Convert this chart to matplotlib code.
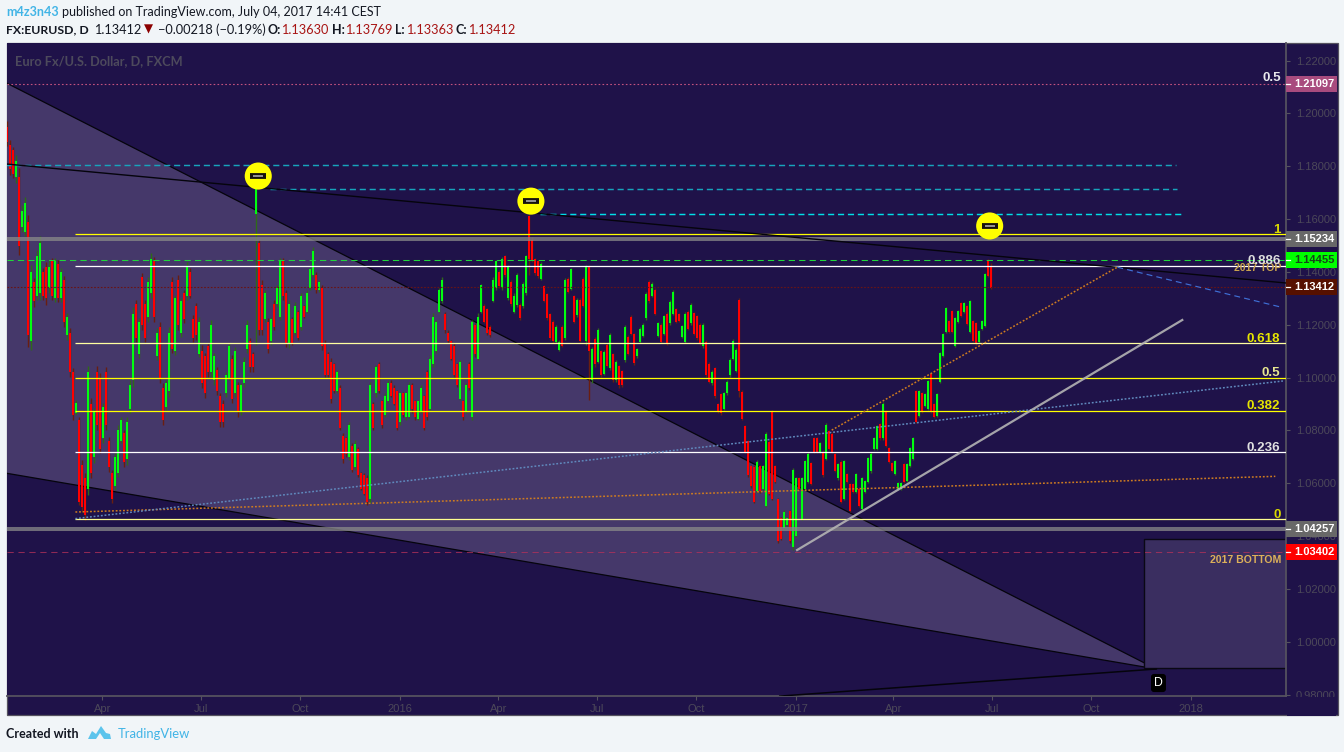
import numpy as np
import matplotlib
matplotlib.use("Agg")
import matplotlib.pyplot as plt
import matplotlib.dates as mdates
from matplotlib.patches import Rectangle, Polygon
from matplotlib.transforms import blended_transform_factory

W, H = 1344, 752
BG = "#f1f5f8"; PANEL = "#1f1249"; TRI = "#45386a"; RECT = "#3a2e60"; AX = "#55525f"; TICK = "#4c4859"
FONT = "Liberation Sans"; HEAD = "Lato"

# Candles, in 1/10000 above 1.0000
first_bar = "2015-01-03"
bar_step_days = 2.773
high_pips = [
1971,1899,1873,1843,1794,1653,1683,1615,1426,
1377,1483,1536,1415,1438,1445,1453,1453,1445,
1415,1385,1244,1188,1036,915,850,688,639,
1044,923,885,1044,1017,904,1040,775,650,
714,820,850,801,850,991,1267,1294,1225,
1396,1294,1381,1472,1457,1188,1210,979,991,
1191,1381,1313,1388,1301,1331,1438,1415,1237,
1282,1229,1123,1093,1131,1218,1093,1040,942,
915,1021,1131,1085,1116,983,979,1078,1218,
1150,1097,1721,1521,1369,1331,1225,1229,1294,
1350,1453,1453,1331,1294,1229,1286,1256,1320,
1275,1331,1415,1494,1400,1369,1350,1142,1097,
1074,1055,1029,972,790,775,831,752,764,
737,642,639,631,983,907,1048,1059,915,
942,991,991,972,953,945,945,945,983,
979,915,915,972,934,1029,1085,1244,1218,
1339,1381,1248,1180,1142,1131,1055,1067,915,
979,1059,1218,1207,1244,1354,1278,1263,1199,
1381,1445,1407,1457,1464,1426,1369,1320,1396,
1282,1362,1464,1615,1532,1453,1445,1438,1350,
1320,1244,1218,1199,1142,1199,1377,1381,1415,
1313,1301,1301,1381,1426,1426,1116,1153,1188,
1104,1104,1131,1169,1093,1067,1048,1029,1199,
1161,1237,1169,1112,1191,1207,1324,1369,1362,
1339,1210,1207,1237,1248,1294,1331,1263,1244,
1199,1248,1256,1282,1248,1237,1207,1207,1142,
1059,1029,1040,904,942,945,991,1074,1146,
1112,1301,953,820,764,669,669,688,669,
669,794,764,877,669,544,472,498,472,
498,657,624,624,624,688,718,680,775,
775,756,726,828,801,794,714,677,688,
688,639,600,600,639,585,624,612,699,
718,775,820,828,907,877,737,680,688,
604,604,677,677,737,775,953,953,945,
942,991,1017,904,942,1097,1169,1267,1218,
1256,1229,1256,1286,1286,1275,1294,1218,1210,
1180,1218,1396,1449,1434]
low_pips = [
1877,1767,1755,1736,1464,1551,1536,1116,1104,
1267,1294,1294,1294,1275,1320,1294,1286,1286,
1286,1191,1142,1002,839,858,517,491,461,
555,620,677,801,714,752,801,642,525,
574,624,752,662,669,866,964,1135,1074,
1180,1135,1210,1301,1210,1067,979,820,877,
926,1093,1085,1180,1153,1207,1294,1301,1135,
1142,1078,960,923,1002,1002,972,934,813,
813,926,991,904,926,850,858,964,1093,
1021,1021,1123,1161,1161,1210,1093,1123,1180,
1267,1218,1294,1116,1112,1123,1161,1142,1180,
1225,1244,1331,1381,1320,1324,1104,1002,1002,
904,942,942,801,677,699,688,642,650,
624,574,555,517,525,801,926,942,809,
850,904,926,896,801,820,850,839,846,
866,839,839,866,801,839,877,1040,1093,
1244,1282,1169,1131,1067,1002,964,915,839,
866,953,839,1078,1067,1244,1207,1161,1153,
1286,1331,1339,1331,1381,1294,1271,1244,1267,
1218,1263,1313,1388,1438,1388,1377,1369,1286,
1218,1142,1131,1131,1100,1116,1142,1320,1331,
1207,1229,1135,1267,1123,915,979,1040,1055,
1002,1010,1040,1029,983,983,960,964,1059,
1085,1161,1048,1074,1131,1153,1218,1282,1305,
1237,1153,1131,1161,1123,1199,1237,1207,1210,
1150,1131,1180,1199,1161,1142,1123,1112,1002,
979,972,923,866,858,877,934,1002,1067,
1021,926,839,714,624,581,525,563,563,
574,510,555,536,600,374,385,423,434,
374,347,396,574,461,574,600,593,714,
714,714,624,688,726,714,642,612,525,
536,600,491,563,563,510,498,563,600,
639,726,726,764,764,737,677,642,631,
574,574,600,604,662,688,828,850,866,
888,877,866,846,850,979,1078,1169,1169,
1169,1116,1207,1229,1244,1199,1169,1135,1123,
1131,1180,1191,1381,1336]
open_pips = [
1950,1880,1860,1760,1760,1570,1550,1590,1140,
1360,1310,1320,1400,1420,1340,1440,1300,1430,
1300,1370,1160,1170,1020,865,840,670,620,
580,900,700,1020,1000,770,1020,760,640,
590,640,760,790,690,880,990,1280,1090,
1380,1280,1230,1320,1440,1080,1190,960,890,
950,1360,1100,1370,1170,1320,1310,1400,1220,
1270,1090,1100,1080,1120,1020,990,1030,930,
900,940,1000,1070,940,970,870,980,1110,
1140,1090,1620,1510,1350,1220,1210,1140,1280,
1280,1230,1440,1320,1130,1220,1170,1250,1190,
1270,1250,1340,1390,1390,1330,1340,1130,1090,
1060,1050,950,960,780,770,700,740,660,
730,640,630,620,540,900,940,1050,910,
860,910,980,960,950,830,940,850,850,
970,910,845,870,930,1020,880,1050,1100,
1250,1290,1240,1170,1140,1120,1050,920,910,
870,1050,850,1200,1070,1250,1270,1260,1190,
1290,1340,1400,1340,1460,1300,1360,1250,1275,
1275,1270,1320,1610,1520,1450,1440,1375,1345,
1315,1240,1210,1135,1105,1190,1150,1375,1335,
1310,1235,1295,1375,1140,1420,990,1145,1060,
1100,1015,1125,1035,1090,990,1045,1025,1065,
1155,1230,1165,1080,1135,1158,1225,1362,1310,
1333,1158,1200,1165,1242,1205,1242,1258,1240,
1155,1136,1250,1205,1243,1232,1200,1118,1136,
1050,978,1035,900,936,882,940,1008,1072,
1026,1295,945,815,760,665,660,570,665,
580,515,755,870,665,540,470,430,440,
494,360,400,620,465,578,605,676,770,
770,718,720,692,796,788,710,618,680,
540,635,596,596,567,580,503,566,604,
645,730,730,824,770,872,732,676,636,
578,578,672,608,667,692,948,855,940,
892,881,1012,900,855,985,1083,1174,1214,
1252,1120,1210,1282,1248,1270,1173,1214,1206,
1135,1184,1195,1445,1420]
close_pips = [
1890,1790,1770,1820,1500,1630,1660,1160,1400,
1290,1460,1510,1310,1300,1420,1310,1440,1300,
1400,1210,1230,1020,860,905,530,510,480,
1020,640,870,820,730,890,820,660,540,
700,800,840,680,830,970,1240,1150,1210,
1200,1150,1360,1450,1230,1170,1000,840,980,
1170,1110,1300,1200,1290,1220,1420,1310,1150,
1160,1210,980,940,1020,1200,1080,950,830,
830,1010,1120,920,1100,870,970,1060,1200,
1040,1040,1715,1180,1180,1320,1110,1220,1190,
1340,1440,1310,1130,1280,1130,1270,1150,1310,
1230,1320,1410,1480,1330,1360,1120,1010,1010,
920,950,1020,810,690,710,820,650,750,
630,580,560,530,970,810,1040,950,820,
930,980,930,900,810,940,860,940,970,
880,850,910,960,810,850,1070,1230,1210,
1330,1370,1180,1140,1070,1010,970,1060,850,
970,960,1210,1090,1230,1350,1210,1170,1160,
1370,1440,1345,1450,1390,1420,1280,1310,1390,
1225,1355,1460,1450,1445,1395,1385,1430,1290,
1225,1150,1140,1190,1135,1120,1370,1325,1410,
1210,1295,1140,1270,1420,1100,1110,1050,1180,
1010,1095,1045,1160,990,1060,970,970,1190,
1090,1165,1055,1108,1185,1200,1318,1290,1355,
1242,1205,1136,1232,1128,1288,1325,1212,1214,
1195,1242,1185,1276,1166,1148,1130,1200,1010,
985,1022,930,870,864,940,985,1068,1140,
1105,950,845,720,630,590,530,680,570,
665,785,560,540,605,380,390,492,468,
380,650,620,578,618,684,712,598,720,
718,752,630,820,730,720,648,672,530,
684,605,495,566,635,515,620,608,694,
712,770,815,770,900,742,682,646,684,
600,600,604,672,732,770,833,948,870,
938,986,870,850,938,1092,1165,1262,1173,
1173,1225,1252,1233,1282,1203,1290,1140,1128,
1176,1214,1392,1385,1341]

# Horizontal levels
fib_start = "2015-03-07"
fib_levels = [0.0, 0.236, 0.382, 0.5, 0.618, 0.886, 1.0]
fib_prices = [1.04635, 1.07165, 1.08735, 1.1000, 1.11300, 1.14235, 1.15426]
fib_colors = ["#ffff90", "#ffffff", "#ffff00", "#ffff00", "#ffffa0", "#ffffff", "#ffff00"]
fib_text = ["0", "0.236", "0.382", "0.5", "0.618", "0.886", "1"]
fib_text_colors = ["#d8d800", "#e0e0e0", "#e6e600", "#e8e890", "#e6e600", "#dddddd", "#d8d800"]
cyan_prices = [1.1805, 1.1714, 1.1620]
cyan_starts = ["2015-01-01", "2015-09-03", "2016-05-09"]
cyan_ends = ["2017-12-18", "2017-12-19", "2017-12-23"]
cyan_colors = ["#17a4bc", "#17a4bc", "#00dfe8"]
price_tags = [1.21097, 1.15234, 1.14455, 1.13412, 1.04257, 1.03402]
tag_colors = ["#a84b7e", "#686868", "#00ff00", "#561000", "#686868", "#ff0000"]
tag_text_colors = ["#ffffff", "#ffffff", "#16441a", "#ffffff", "#ffffff", "#ffffff"]
y_ticks = [0.98, 1.00, 1.02, 1.04, 1.06, 1.08, 1.10, 1.12, 1.14, 1.16, 1.18, 1.20, 1.22]
x_tick_dates = ["2015-04-01","2015-07-01","2015-10-01","2016-01-01","2016-04-01","2016-07-01",
                "2016-10-01","2017-01-01","2017-04-01","2017-07-01","2017-10-01","2018-01-01"]
x_tick_labels = ["Apr","Jul","Oct","2016","Apr","Jul","Oct","2017","Apr","Jul","Oct","2018"]

# Drawings
tri_dates = ["2015-01-01", "2017-11-30", "2015-01-01"]
tri_prices = [1.2118, 0.98966, 1.06387]
rect_dates = ["2017-11-19", "2018-04-10"]
rect_prices = [0.99004, 1.0390]
resist_dates = ["2015-01-01", "2018-03-30"]
resist_prices = [1.1809, 1.1358]
base_dates = ["2016-12-17", "2017-11-30"]
base_prices = [0.9794, 0.98966]
orange_flat_dates = ["2015-03-07", "2018-03-20"]
orange_flat_prices = [1.0491, 1.0626]
blue_dot_dates = ["2015-03-07", "2018-03-27"]
blue_dot_prices = [1.0466, 1.0987]
orange_up_dates = ["2017-02-03", "2017-10-25"]
orange_up_prices = [1.0801, 1.1418]
blue_dash_dates = ["2017-10-25", "2018-03-24"]
blue_dash_prices = [1.1418, 1.1268]
gray_dates = ["2017-01-02", "2017-12-24"]
gray_prices = [1.0347, 1.1218]
marker_dates = ["2015-08-23", "2016-05-01", "2017-06-29"]
marker_prices = [1.1763, 1.1668, 1.1574]

fig = plt.figure(figsize=(W / 100, H / 100), dpi=100, facecolor=BG)
fig.patches.append(Rectangle((6.5 / W, 1 - 715 / H), 1331 / W, 672 / H, transform=fig.transFigure,
                             facecolor=PANEL, edgecolor=AX, lw=0.9, figure=fig, zorder=-5))
ax = fig.add_axes([7 / W, 1 - 696 / H, 1279 / W, 653 / H], facecolor=PANEL)
num = lambda seq: mdates.datestr2num(seq)
n2017 = num("2017-01-01")
ax.set_xlim(n2017 + (7 - 796) / 1.082, n2017 + (1286 - 796) / 1.082)
ax.set_ylim(0.97944, 1.22667)
T = blended_transform_factory(ax.transAxes, ax.transData)

# Filled drawings
ax.add_patch(Polygon(np.column_stack([num(tri_dates), tri_prices]), closed=True, facecolor=TRI,
                     edgecolor="#05040c", lw=0.9, zorder=1))
ax.add_patch(Rectangle((num(rect_dates[0]), rect_prices[0]), num(rect_dates[1]) - num(rect_dates[0]),
                       rect_prices[1] - rect_prices[0], facecolor=RECT, edgecolor="#0a0814", lw=1.0, zorder=1.1))

# Candles
bar_x = num(first_bar) + bar_step_days * np.arange(len(high_pips))
hi = 1 + np.array(high_pips) / 1e4
lo = 1 + np.array(low_pips) / 1e4
op = 1 + np.array(open_pips) / 1e4
cl = 1 + np.array(close_pips) / 1e4
up = cl >= op
ax.vlines(bar_x[up], lo[up], hi[up], color="#2f6a1a", lw=1.0, zorder=2)
ax.vlines(bar_x[~up], lo[~up], hi[~up], color="#6a1e10", lw=1.0, zorder=2)
ax.vlines(bar_x[up], op[up], cl[up], color="#00ff10", lw=1.45, zorder=2.1)
ax.vlines(bar_x[~up], cl[~up], op[~up], color="#ff0000", lw=1.45, zorder=2.1)

xl = ax.get_xlim()
# Thick gray levels
ax.hlines(price_tags[1], *xl, color="#8a8a8a", lw=2.9, alpha=0.75, zorder=3)
ax.hlines(price_tags[4], *xl, color="#8a8a8a", lw=2.9, alpha=0.75, zorder=3)
# Price lines
ax.hlines(price_tags[0], *xl, color="#c4527f", lw=0.8, ls=(0, (1.5, 2)), zorder=3.1)
ax.hlines(price_tags[2], *xl, color="#1fd83a", lw=0.75, ls=(0, (6, 4)), zorder=3.1)
ax.hlines(price_tags[3], *xl, color="#6a1414", lw=0.8, ls=(0, (1.5, 1.5)), zorder=3.1)
ax.hlines(price_tags[5], *xl, color="#b5315a", lw=0.75, alpha=0.75, ls=(0, (6, 4.5)), zorder=3.1)
for p, s, e, c in zip(cyan_prices, cyan_starts, cyan_ends, cyan_colors):
    ax.hlines(p, num(s), num(e), color=c, lw=1.05, ls=(0, (4.2, 2.6)), zorder=3.1)
# Fib levels
for p, c, t, tc in zip(fib_prices, fib_colors, fib_text, fib_text_colors):
    ax.hlines(p, num(fib_start), xl[1], color=c, lw=0.9, zorder=3.2, snap=True)
    ax.annotate(t, (1, p), xycoords=("axes fraction", "data"), xytext=(-4, -1), textcoords="offset points",
                ha="right", va="bottom", color=tc, fontsize=9.6, fontweight="bold", family=FONT, zorder=6)
ax.annotate("0.5", (1, price_tags[0]), xycoords=("axes fraction", "data"), xytext=(-3.5, 0.5),
            textcoords="offset points", ha="right", va="bottom", color="#e8e8ec", fontsize=9.6,
            fontweight="bold", family=FONT, zorder=6)
ax.text(0.9965, 1.1416, "2017 TOP", transform=T, ha="right", va="center", color="#c9a24e", fontsize=7.6,
        fontweight="bold", family=FONT, zorder=5)
ax.text(0.9965, 1.0311, "2017 BOTTOM", transform=T, ha="right", va="center", color="#dcb05a", fontsize=7.6,
        fontweight="bold", family=FONT, zorder=5)

# Line drawings
ax.plot(num(resist_dates), resist_prices, color="#05040c", lw=1.0, zorder=3.3)
ax.plot(num(base_dates), base_prices, color="#05040c", lw=1.1, zorder=3.3)
ax.plot(num(orange_flat_dates), orange_flat_prices, color="#cf7c20", lw=1.1, ls=(0, (1.2, 1.2)), zorder=3.4)
ax.plot(num(blue_dot_dates), blue_dot_prices, color="#6089bd", lw=1.1, ls=(0, (1.2, 1.2)), zorder=3.4)
ax.plot(num(orange_up_dates), orange_up_prices, color="#cf7c20", lw=1.1, ls=(0, (1.2, 1.2)), zorder=3.4)
ax.plot(num(blue_dash_dates), blue_dash_prices, color="#3f6fd6", lw=0.85, ls=(0, (5, 3.5)), zorder=3.4)
ax.plot(num(gray_dates), gray_prices, color="#b4b4b4", lw=1.6, alpha=0.9, zorder=3.4)

# Markers
ax.scatter(num(marker_dates), marker_prices, s=380, color="#ffff00", edgecolor="none", zorder=7)
ax.scatter(num(marker_dates), marker_prices, s=120, marker="_", color="#17130e", linewidths=4.2, zorder=7.1)
ax.scatter(num(marker_dates), marker_prices, s=60, marker="_", color="#b8b8b8", linewidths=1.1, zorder=7.2)
ax.text(num("2017-12-02"), 0.98436, "D", color="white", fontsize=8.8, family=FONT, ha="center", va="center", zorder=8,
        bbox=dict(boxstyle="round,pad=0.25,rounding_size=0.25", fc="black", ec="none"))

# Axes
for s in ["top", "left"]:
    ax.spines[s].set_visible(False)
for s in ["right", "bottom"]:
    ax.spines[s].set_color(AX)
    ax.spines[s].set_linewidth(1.3)
ax.yaxis.tick_right()
ax.set_yticks(y_ticks)
ax.set_yticklabels([f"{v:.5f}" for v in y_ticks], color=TICK, fontsize=8.0, family=FONT)
ax.tick_params(axis="y", length=3, width=0.8, color=AX, pad=4)
ax.set_xticks(num(x_tick_dates))
ax.set_xticklabels(x_tick_labels, color=TICK, fontsize=8.0, family=FONT)
ax.tick_params(axis="x", length=3, width=0.8, color=AX, pad=3)
# The lowest price label is cut off by the time scale
ax.add_patch(Rectangle((1 + 1 / 1279, -20 / 653), 49 / 1279, 19.5 / 653, transform=ax.transAxes, facecolor=PANEL,
                       edgecolor="none", clip_on=False, zorder=5))

# Price tags on the axis
tag_h = 0.00606
box_w = 51 / 1279
for p, c, tc in zip(price_tags, tag_colors, tag_text_colors):
    ax.add_patch(Rectangle((1.0, p - tag_h / 2), box_w, tag_h, transform=T, facecolor=c, edgecolor="none",
                           clip_on=False, zorder=9))
    ax.plot([1.0, 1.003], [p, p], transform=T, color="white", lw=0.9, clip_on=False, zorder=10)
    ax.text(1 + 8 / 1279, p, f"{p:.5f}", transform=T, color=tc, fontsize=8.0, fontweight="bold", family=FONT,
            ha="left", va="center", clip_on=False, zorder=10)
ax.text(8 / 1279, 1.2200, "Euro Fx/U.S. Dollar, D, FXCM", transform=T, color="#4d4a5c", fontsize=9.2,
        fontweight="bold", family=HEAD, ha="left", va="center", zorder=8)

# Header and footer
def top(x, y, s, color="#131722", weight="normal", size=9.0, family=HEAD):
    fig.text(x / W, 1 - y / H, s, color=color, fontsize=size, fontweight=weight, family=family, va="center", ha="left")

BLUE = "#41b4e6"; RED = "#a81414"
top(6, 11.5, "m4z3n43", BLUE, "bold")
top(62, 11.5, "published on TradingView.com, July 04, 2017 14:41 CEST")
top(6, 29.5, "FX:EURUSD, D", weight="bold", size=8.8)
top(94, 29.5, "1.13412", size=9.2)
fig.text(148.5 / W, 1 - 29.5 / H, "\u25BC", color="#8c0000", fontsize=8.5, family="DejaVu Sans", ha="center", va="center")
top(158, 29.5, "\u22120.00218 (\u22120.19%)", size=9.2)
top(267, 29.5, "O:", weight="bold"); top(281, 29.5, "1.13630", RED, size=9.2)
top(332, 29.5, "H:", weight="bold"); top(345, 29.5, "1.13769", RED, size=9.2)
top(395, 29.5, "L:", weight="bold"); top(406, 29.5, "1.13363", RED, size=9.2)
top(456, 29.5, "C:", weight="bold"); top(468, 29.5, "1.13412", RED, size=9.2)
top(6, 734.5, "Created with", weight="bold", size=9.0)
top(118, 734.5, "TradingView", BLUE, size=9.4)
logo = np.array([[88, 739], [92, 731], [96, 734], [101, 726], [106, 733], [110, 734], [111, 739], [104, 739],
                 [100, 733], [96, 739]], float)
fig.patches.append(Polygon(np.column_stack([logo[:, 0] / W, 1 - logo[:, 1] / H]), closed=True,
                           transform=fig.transFigure, facecolor="#5cc4ec", edgecolor="none", figure=fig))

fig.savefig("out.png", dpi=100, facecolor=BG)
